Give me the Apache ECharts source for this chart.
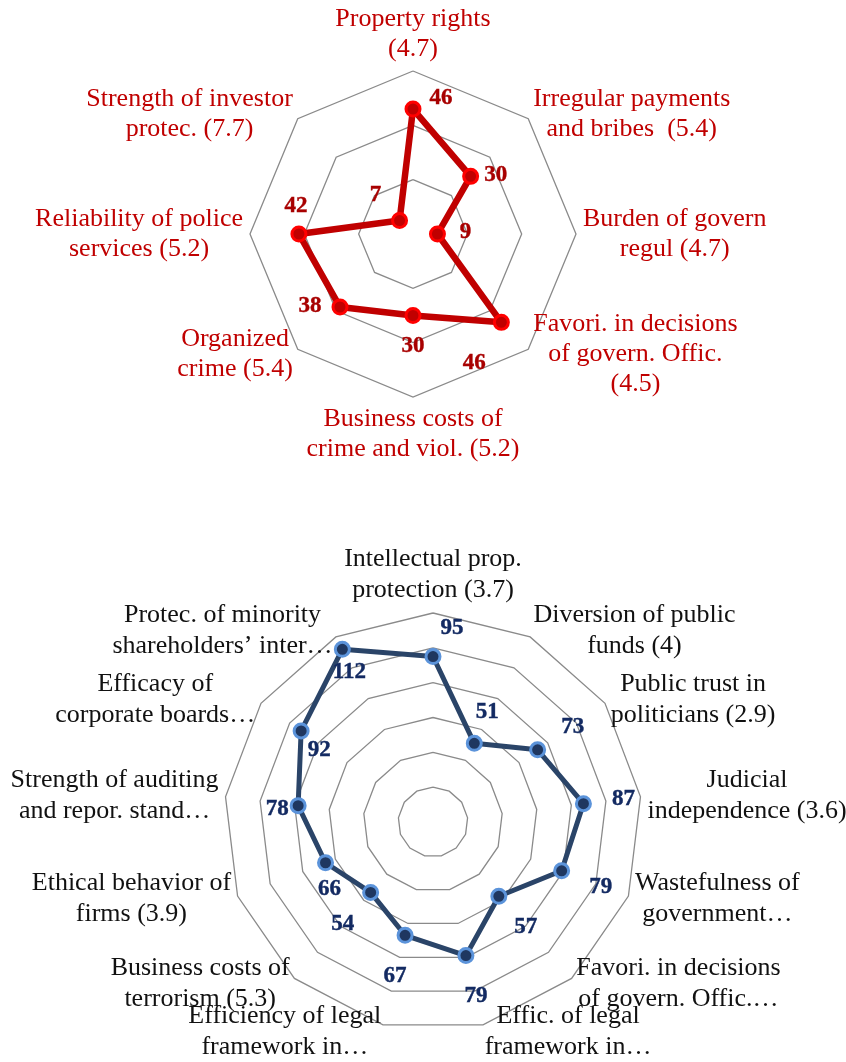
<!DOCTYPE html>
<html>
<head>
<meta charset="utf-8">
<script src="https://cdn.jsdelivr.net/npm/echarts@6/dist/echarts.min.js"></script>
<style>
  html, body { margin: 0; padding: 0; background: #fff; }
  #chart { width: 846px; height: 1062px; }
</style>
</head>
<body>
<div id="chart"></div>
<script>
// top radar: indicators (clockwise from top) and values
const topNames = [
  'Property rights\n(4.7)',
  'Irregular payments\nand bribes  (5.4)',
  'Burden of govern\nregul (4.7)',
  'Favori. in decisions\nof govern. Offic.\n(4.5)',
  'Business costs of\ncrime and viol. (5.2)',
  'Organized\ncrime (5.4)',
  'Reliability of police\nservices (5.2)',
  'Strength of investor\nprotec. (7.7)'
]
const topValues = [46, 30, 9, 46, 30, 38, 42, 7]

// bottom radar (clockwise from top)
const botNames = [
  'Intellectual prop.\nprotection (3.7)',
  'Diversion of public\nfunds (4)',
  'Public trust in\npoliticians (2.9)',
  'Judicial\nindependence (3.6)',
  'Wastefulness of\ngovernment…',
  'Favori. in decisions\nof govern. Offic.…',
  'Effic. of legal\nframework in…',
  'Efficiency of legal\nframework in…',
  'Business costs of\nterrorism (5.3)',
  'Ethical behavior of\nfirms (3.9)',
  'Strength of auditing\nand repor. stand…',
  'Efficacy of\ncorporate boards…',
  'Protec. of minority\nshareholders’ inter…'
]
const botValues = [95, 51, 73, 87, 79, 57, 79, 67, 54, 66, 78, 92, 112]

// where each value label sits relative to its point (px)
const topLabelOffsets = [[28, -11], [25, -1], [28, -2], [-27, 41], [0, 31], [-30, -1], [-3, -28], [-24, -25]]
const botLabelOffsets = [[19, -28], [13, -31], [35, -23], [40, -5], [39, 16], [27, 31], [10, 40],
  [-10, 41], [-28, 32], [4, 26], [-21, 3], [18, 19], [7, 23]]

const FONT = '"Liberation Serif", "DejaVu Serif", serif'

// echarts lays radar indicators counter-clockwise, so feed them as [0, n-1, ..., 1]
function cw(arr) {
  return [arr[0]].concat(arr.slice(1).reverse())
}

function nameStyle(color, size, lh) {
  return {
    color: color,
    fontFamily: FONT,
    fontSize: size,
    lineHeight: lh,
    formatter: (name) => name.split('\n').map(s => '{c|' + s + '}').join('\n'),
    rich: {
      c: { align: 'center', color: color, fontFamily: FONT, fontSize: size, lineHeight: lh }
    }
  }
}

function radarBase(center, radius, split, names, max, nameCfg) {
  return {
    center: center,
    radius: radius,
    startAngle: 90,
    shape: 'polygon',
    splitNumber: split,
    indicator: cw(names).map(n => ({ name: n, min: 0, max: max })),
    nameGap: 7,
    axisName: nameCfg,
    splitLine: { lineStyle: { color: '#8a8a8a', width: 1.3 } },
    splitArea: { show: false },
    axisLine: { show: false },
    axisTick: { show: false },
    axisLabel: { show: false }
  }
}

function labelSeries(polarIndex, values, offsets, color) {
  return {
    type: 'scatter',
    coordinateSystem: 'polar',
    polarIndex: polarIndex,
    silent: true,
    symbolSize: 1,
    itemStyle: { color: 'rgba(0,0,0,0)', opacity: 1 }, // scatter defaults to 0.8, labels inherit it
    label: {
      show: true,
      position: 'inside',
      color: color,
      opacity: 1,
      fontFamily: FONT,
      fontWeight: 'bold',
      fontSize: 23,
      textBorderColor: color,
      textBorderWidth: 0.4,
      formatter: (p) => String(p.value[0])
    },
    data: values.map((v, i) => ({ value: [v, i], label: { offset: offsets[i] } }))
  }
}

const myChart = echarts.init(document.getElementById('chart'))
const option = {
  animation: false,
  radar: [
    radarBase([413, 234], 163, 3, topNames, 60, nameStyle('#C00000', 26, 30)),
    radarBase([433, 822], 209, 6, botNames, 120, nameStyle('#111111', 26, 31))
  ],
  // hidden polar systems, same geometry as the radars, only used to place value labels
  polar: [
    { center: [413, 234], radius: 163 },
    { center: [433, 822], radius: 209 }
  ],
  angleAxis: [
    { polarIndex: 0, type: 'value', min: 0, max: topValues.length, startAngle: 90, clockwise: true, show: false },
    { polarIndex: 1, type: 'value', min: 0, max: botValues.length, startAngle: 90, clockwise: true, show: false }
  ],
  radiusAxis: [
    { polarIndex: 0, type: 'value', min: 0, max: 60, show: false },
    { polarIndex: 1, type: 'value', min: 0, max: 120, show: false }
  ],
  series: [
    {
      type: 'radar',
      radarIndex: 0,
      symbol: 'circle',
      symbolSize: 14,
      lineStyle: { color: '#C00000', width: 6.5 },
      itemStyle: { color: '#C00000', borderColor: '#FF0000', borderWidth: 3 },
      data: [{ value: cw(topValues) }]
    },
    {
      type: 'radar',
      radarIndex: 1,
      symbol: 'circle',
      symbolSize: 14,
      lineStyle: { color: '#2A4468', width: 5 },
      itemStyle: { color: '#1F3760', borderColor: '#5B93DA', borderWidth: 3 },
      data: [{ value: cw(botValues) }]
    },
    labelSeries(0, topValues, topLabelOffsets, '#A80000'),
    labelSeries(1, botValues, botLabelOffsets, '#132A62')
  ]
}
myChart.setOption(option)
</script>
</body>
</html>
